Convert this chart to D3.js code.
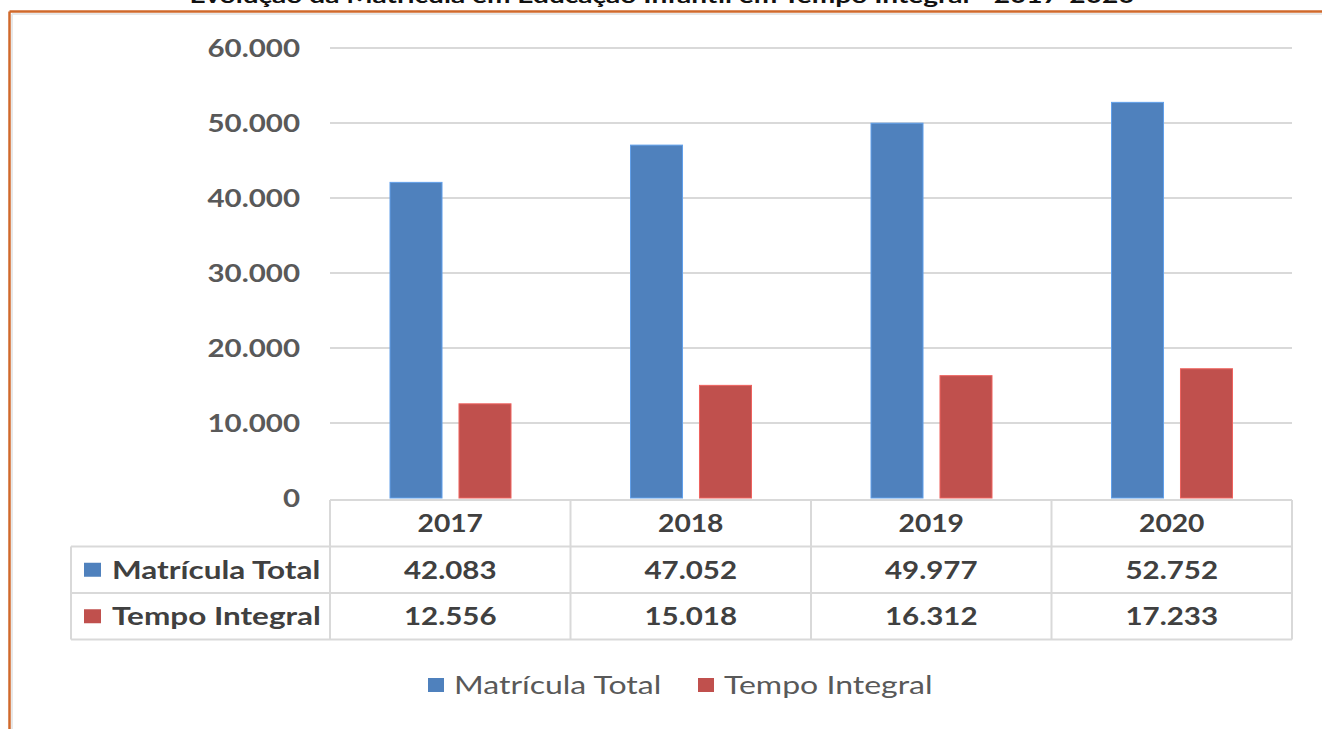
<!DOCTYPE html>
<html>
<head>
<meta charset="utf-8">
<script src="https://cdn.jsdelivr.net/npm/d3@7"></script>
<style>
  html, body { margin: 0; padding: 0; background: #fff; }
  svg { display: block; }
  text { font-family: Lato, "Open Sans", sans-serif; }
</style>
</head>
<body>
<svg id="chart" width="1322" height="729"></svg>
<script>
// Data
const title = "Evolução da Matrícula em Educação Infantil em Tempo Integral - 2017-2020";
const years = ["2017", "2018", "2019", "2020"];
const seriesNames = ["Matrícula Total", "Tempo Integral"];
const matriculaTotal = [42083, 47052, 49977, 52752];
const tempoIntegral = [12556, 15018, 16312, 17233];
const yTicks = [0, 10000, 20000, 30000, 40000, 50000, 60000];
const seriesColors = ["#4F81BD", "#C0504D"];

const seriesValues = [matriculaTotal, tempoIntegral];
const rows = years.map((yr, i) => ({
  year: yr,
  values: seriesNames.map((s, k) => ({ name: s, value: seriesValues[k][i], color: seriesColors[k] }))
}));

const locale = d3.formatLocale({ decimal: ",", thousands: ".", grouping: [3], currency: ["", ""] });
const fmt = locale.format(",d");

// Widen text horizontally around its anchor point
function stretch(sel, sx) {
  sel.each(function () {
    const t = d3.select(this);
    const tx = +t.attr("x") || 0, ty = +t.attr("y") || 0;
    const prev = t.attr("transform") || "";
    t.attr("x", 0).attr("y", 0)
      .attr("transform", `${prev} translate(${tx},${ty}) scale(${sx},1)`);
  });
}

const svg = d3.select("#chart");

// Frame and clipped title
svg.append("line").attr("x1", 12).attr("x2", 1322).attr("y1", 14).attr("y2", 14)
  .attr("stroke", "#e8e8e8").attr("stroke-width", 2);
svg.append("line").attr("x1", 12).attr("x2", 12).attr("y1", 14).attr("y2", 729)
  .attr("stroke", "#e8e8e8").attr("stroke-width", 2);
svg.append("line").attr("x1", 9.5).attr("x2", 1322).attr("y1", 11.5).attr("y2", 11.5)
  .attr("stroke", "#D0692B").attr("stroke-width", 2.5);
svg.append("line").attr("x1", 9.5).attr("x2", 9.5).attr("y1", 11.5).attr("y2", 729)
  .attr("stroke", "#D0692B").attr("stroke-width", 2.5);

svg.append("text")
  .attr("x", 662).attr("y", 3)
  .attr("text-anchor", "middle")
  .attr("font-family", "Liberation Sans, Arial, sans-serif")
  .attr("font-weight", "bold")
  .attr("font-size", 20)
  .attr("fill", "#111")
  .attr("textLength", 945)
  .attr("lengthAdjust", "spacingAndGlyphs")
  .text(title);

// Scales
const x = d3.scaleBand().domain(years).range([330, 1292]).paddingInner(0).paddingOuter(0);
const xs = d3.scaleBand().domain(seriesNames).range([60, 181]).paddingInner(0.246).paddingOuter(0);
const y = d3.scaleLinear().domain([0, 60000]).range([498, 48]);

// Gridlines
svg.append("g")
  .selectAll("line")
  .data(yTicks.filter(d => d > 0))
  .join("line")
  .attr("x1", 330).attr("x2", 1292)
  .attr("y1", d => y(d)).attr("y2", d => y(d))
  .attr("stroke", "#d9d9d9").attr("stroke-width", 2);

// Y axis labels
const yAxis = d3.axisLeft(y).tickValues(yTicks).tickFormat(d => d === 0 ? "0" : fmt(d)).tickSize(0).tickPadding(0);
const yg = svg.append("g").attr("transform", "translate(300,0)").call(yAxis);
yg.select(".domain").remove();
yg.selectAll("text")
  .attr("font-family", "Lato, sans-serif")
  .attr("font-size", 25)
  .attr("font-weight", "bold")
  .attr("fill", "#595959")
  .attr("dy", "0.35em")
  .call(stretch, 1.18);

// Bars
const groups = svg.append("g").selectAll("g")
  .data(rows).join("g")
  .attr("transform", d => `translate(${x(d.year)},0)`);
groups.selectAll("rect")
  .data(d => d.values).join("rect")
  .attr("x", d => xs(d.name))
  .attr("width", xs.bandwidth())
  .attr("y", d => y(d.value))
  .attr("height", d => y(0) - y(d.value))
  .attr("fill", d => d.color)
  .attr("stroke", d => d3.color(d.color).brighter(0.6))
  .attr("stroke-width", 1);

// Data table
const tableTop = 500, rowH = 46.5, labelLeft = 71;
const gridColor = "#d9d9d9";
const tg = svg.append("g");
tg.append("line").attr("x1", 330).attr("x2", 1292).attr("y1", tableTop).attr("y2", tableTop)
  .attr("stroke", gridColor).attr("stroke-width", 2);
[1, 2, 3].forEach(k => {
  tg.append("line").attr("x1", labelLeft).attr("x2", 1292)
    .attr("y1", tableTop + k * rowH).attr("y2", tableTop + k * rowH)
    .attr("stroke", gridColor).attr("stroke-width", 2);
});
tg.append("line").attr("x1", labelLeft).attr("x2", labelLeft)
  .attr("y1", tableTop + rowH).attr("y2", tableTop + 3 * rowH)
  .attr("stroke", gridColor).attr("stroke-width", 2);
years.map(yr => x(yr)).concat([x.range()[1]]).forEach(xx => {
  tg.append("line").attr("x1", xx).attr("x2", xx)
    .attr("y1", tableTop).attr("y2", tableTop + 3 * rowH)
    .attr("stroke", gridColor).attr("stroke-width", 2);
});
// header years
tg.selectAll("text.year").data(years).join("text")
  .attr("class", "year")
  .attr("x", d => x(d) + x.bandwidth() / 2)
  .attr("y", tableTop + rowH / 2)
  .attr("dy", "0.35em")
  .attr("text-anchor", "middle")
  .attr("font-size", 25).attr("font-weight", "bold").attr("fill", "#404040")
  .text(d => d)
  .call(stretch, 1.13);
// rows
seriesNames.forEach((s, k) => {
  const cy = tableTop + (k + 1) * rowH + rowH / 2;
  tg.append("rect").attr("x", 84).attr("y", cy - 7).attr("width", 17).attr("height", 14)
    .attr("fill", seriesColors[k]);
  tg.append("text").attr("x", 112).attr("y", cy).attr("dy", "0.35em")
    .attr("font-size", 25).attr("font-weight", "bold").attr("fill", "#404040")
    .text(s)
    .call(stretch, 1.26);
  tg.selectAll(null).data(rows).join("text")
    .attr("x", d => x(d.year) + x.bandwidth() / 2)
    .attr("y", cy).attr("dy", "0.35em")
    .attr("text-anchor", "middle")
    .attr("font-size", 25).attr("font-weight", "bold").attr("fill", "#404040")
    .text(d => fmt(d.values[k].value))
    .call(stretch, 1.18);
});

// Bottom legend
const legendItems = [
  { name: seriesNames[0], color: seriesColors[0], x: 428 },
  { name: seriesNames[1], color: seriesColors[1], x: 698 }
];
const lg = svg.append("g").selectAll("g").data(legendItems).join("g")
  .attr("transform", d => `translate(${d.x},685)`);
lg.append("rect").attr("x", 0).attr("y", -7).attr("width", 16).attr("height", 14).attr("fill", d => d.color);
lg.append("text").attr("x", 26).attr("y", 0).attr("dy", "0.35em")
  .attr("font-size", 25).attr("fill", "#595959")
  .text(d => d.name)
  .call(stretch, 1.28);
</script>
</body>
</html>
